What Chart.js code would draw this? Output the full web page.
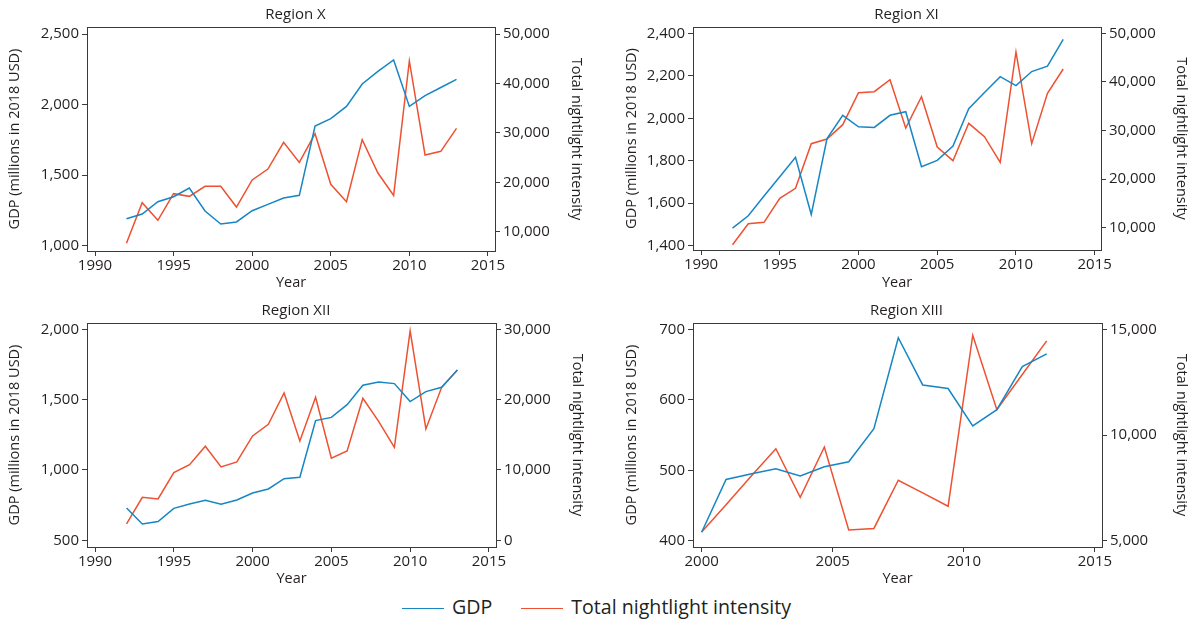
<!DOCTYPE html>
<html>
<head>
<meta charset="utf-8">
<script src="https://cdn.jsdelivr.net/npm/chart.js@4.4.1/dist/chart.umd.min.js"></script>
<style>
  body { margin: 0; background: #fff; width: 1193px; height: 622px; position: relative; overflow: hidden; font-family: "Open Sans", sans-serif; }
  canvas { position: absolute; }
  #legend { position: absolute; left: 0; width: 1193px; top: 593px; text-align: center; font-size: 19.6px; color: #231f20; }
  #legend span.item { display: inline-block; margin: 0 12px; }
  #legend span.sw { display: inline-block; width: 42px; height: 0; border-top: 1.6px solid; vertical-align: middle; margin-right: 8px; }
</style>
</head>
<body>
<canvas id="c1"></canvas>
<canvas id="c2"></canvas>
<canvas id="c3"></canvas>
<canvas id="c4"></canvas>
<div id="legend">
  <span class="item"><span class="sw" style="border-color:#1686c4"></span>GDP</span>
  <span class="item"><span class="sw" style="border-color:#ee5131"></span>Total nightlight intensity</span>
</div>
<script>
// data
var years = [1992, 1993, 1994, 1995, 1996, 1997, 1998, 1999, 2000, 2001, 2002,
             2003, 2004, 2005, 2006, 2007, 2008, 2009, 2010, 2011, 2012, 2013];

var gdpX = [1191, 1224, 1312, 1347, 1409, 1246, 1154, 1168, 1248, 1293, 1338,
            1357, 1848, 1900, 1987, 2146, 2235, 2316, 1987, 2063, 2121, 2179];
var lightX = [7640, 15870, 12300, 17690, 17150, 19180, 19180, 14990, 20460, 22680, 28080,
              24030, 29830, 19580, 16070, 28620, 21870, 17350, 44540, 25520, 26260, 30910];

var gdpXI = [1483, 1541, 1634, 1725, 1816, 1547, 1904, 2014, 1960, 1957, 2014,
             2031, 1772, 1802, 1869, 2045, 2121, 2196, 2154, 2220, 2245, 2372];
var lightXI = [6500, 10820, 11100, 16040, 18100, 27290, 28250, 31200, 37790, 37990, 40460,
               30520, 36960, 26600, 23790, 31480, 28730, 23450, 46160, 27290, 37650, 42660];

var gdpXII = [730, 616, 633, 727, 758, 784, 756, 787, 836, 865, 938,
              948, 1351, 1374, 1464, 1602, 1626, 1614, 1486, 1557, 1588, 1711];
var lightXII = [2320, 6110, 5880, 9620, 10760, 13370, 10430, 11140, 14840, 16490, 20950,
                14120, 20330, 11660, 12700, 20190, 16920, 13220, 29760, 15830, 21750, 24220];

var yearsXIII = [2000, 2000.93, 2001.91, 2002.83, 2003.76, 2004.68, 2005.61, 2006.57,
                 2007.5, 2008.43, 2009.4, 2010.34, 2011.26, 2012.23, 2013.16];
var gdpXIII = [412, 487, 495, 502, 492, 505, 512, 559, 688, 621, 616, 563, 586, 647, 665];
var lightXIII = [5410, 6700, 8080, 9350, 7050, 9430, 5510, 5580, 7860, 7260, 6630,
                 14720, 11200, 12860, 14450];

var xTicksA = [1990, 1995, 2000, 2005, 2010, 2015];
var xTicksB = [2000, 2005, 2010, 2015];
var gdpTicksX = [1000, 1500, 2000, 2500];
var lightTicksX = [10000, 20000, 30000, 40000, 50000];
var gdpTicksXI = [1400, 1600, 1800, 2000, 2200, 2400];
var lightTicksXI = [10000, 20000, 30000, 40000, 50000];
var gdpTicksXII = [500, 1000, 1500, 2000];
var lightTicksXII = [0, 10000, 20000, 30000];
var gdpTicksXIII = [400, 500, 600, 700];
var lightTicksXIII = [5000, 10000, 15000];

var BLUE = '#1686c4', RED = '#ee5131', INK = '#231f20', AXIS = '#3a3a3a';
var FONT = '"Open Sans", sans-serif';
var TITLE_SIZE = 14.5;

function pts(xs, ys) {
    return xs.map(function (x, i) { return { x: x, y: ys[i] }; });
}

var boxPlugin = {
    id: 'box',
    afterDraw: function (chart) {
        var a = chart.chartArea, ctx = chart.ctx;
        ctx.save();
        ctx.strokeStyle = AXIS;
        ctx.lineWidth = 1;
        ctx.strokeRect(Math.round(a.left) + 0.5, Math.round(a.top) + 0.5,
            Math.round(a.right - a.left), Math.round(a.bottom - a.top));
        ctx.restore();
    }
};

function makePanel(id, p) {
    var cv = document.getElementById(id);
    cv.style.left = p.cl + 'px';
    cv.style.top = p.ct + 'px';
    cv.style.width = p.cw + 'px';
    cv.style.height = p.ch + 'px';
    cv.width = p.cw; cv.height = p.ch;

    var half = TITLE_SIZE * 1.2 / 2;
    var padL = p.tl - p.cl - half;
    var padR = (p.cl + p.cw) - (p.tr + half);
    var wL = p.pl - p.cl - padL;
    var wR = (p.cl + p.cw - padR) - p.pr;
    var padB = 4.5;
    var hX = p.ch - padB - (p.pb - p.ct);

    function fixTicks(arr) {
        return function (s) { s.ticks = arr.map(function (v) { return { value: v }; }); };
    }
    var tickFont = { family: FONT, size: 15 };
    var gridOpt = { display: true, drawOnChartArea: false, drawTicks: true, tickLength: 5, color: AXIS };
    var titleFont = { family: FONT, size: TITLE_SIZE };

    new Chart(cv, {
        type: 'line',
        data: {
            datasets: [
                { label: 'GDP', data: pts(p.xs, p.gdp), yAxisID: 'y', borderColor: BLUE, borderWidth: 1.5, pointRadius: 0, tension: 0 },
                { label: 'Total nightlight intensity', data: pts(p.xs, p.light), yAxisID: 'y1', borderColor: RED, borderWidth: 1.5, pointRadius: 0, tension: 0 }
            ]
        },
        options: {
            responsive: false,
            animation: false,
            layout: { padding: { left: padL, right: padR, top: 0, bottom: padB } },
            plugins: {
                legend: { display: false },
                tooltip: { enabled: false },
                title: {
                    display: true, text: p.title, color: INK,
                    font: { family: FONT, size: 15, weight: 'normal' },
                    padding: { top: 6, bottom: (p.pt - p.ct) - 6 - 18 }
                }
            },
            scales: {
                x: {
                    type: 'linear', position: 'bottom', min: p.xmin, max: p.xmax,
                    afterBuildTicks: fixTicks(p.xt),
                    afterFit: function (s) { s.height = hX; },
                    grid: gridOpt, border: { display: false },
                    ticks: { color: INK, font: tickFont, padding: 1, maxRotation: 0, callback: function (v) { return String(v); } },
                    title: { display: true, text: 'Year', color: INK, font: titleFont, padding: 0 }
                },
                y: {
                    type: 'linear', position: 'left', min: p.gmin, max: p.gmax,
                    afterBuildTicks: fixTicks(p.gt),
                    afterFit: function (s) { s.width = wL; },
                    grid: gridOpt, border: { display: false },
                    ticks: { color: INK, font: tickFont, padding: 3, callback: function (v) { return v.toLocaleString('en-US'); } },
                    title: { display: true, text: 'GDP (millions in 2018 USD)', color: INK, font: titleFont, padding: 0 }
                },
                y1: {
                    type: 'linear', position: 'right', min: p.lmin, max: p.lmax,
                    afterBuildTicks: fixTicks(p.lt),
                    afterFit: function (s) { s.width = wR; },
                    grid: gridOpt, border: { display: false },
                    ticks: { color: INK, font: tickFont, padding: 3, callback: function (v) { return v.toLocaleString('en-US'); } },
                    title: { display: true, text: 'Total nightlight intensity', color: INK, font: titleFont, padding: 0 }
                }
            }
        },
        plugins: [boxPlugin]
    });
}

makePanel('c1', { cl: 0, ct: 0, cw: 600, ch: 296, pl: 87, pr: 495, pt: 27, pb: 251, tl: 15, tr: 576,
    title: 'Region X', xs: years, gdp: gdpX, light: lightX, xt: xTicksA, gt: gdpTicksX, lt: lightTicksX,
    xmin: 1989.49, xmax: 2015.45, gmin: 962.4, gmax: 2549.6, lmin: 6093, lmax: 51417 });

makePanel('c2', { cl: 600, ct: 0, cw: 593, ch: 296, pl: 693, pr: 1101, pt: 27, pb: 250, tl: 632, tr: 1181,
    title: 'Region XI', xs: years, gdp: gdpXI, light: lightXI, xt: xTicksA, gt: gdpTicksXI, lt: lightTicksXI,
    xmin: 1989.49, xmax: 2015.4, gmin: 1379.8, gmax: 2429.7, lmin: 5412, lmax: 51296 });

makePanel('c3', { cl: 0, ct: 296, cw: 600, ch: 296, pl: 87, pr: 496, pt: 323, pb: 547, tl: 15, tr: 577,
    title: 'Region XII', xs: years, gdp: gdpXII, light: lightXII, xt: xTicksA, gt: gdpTicksXII, lt: lightTicksXII,
    xmin: 1989.49, xmax: 2015.45, gmin: 452.4, gmax: 2044.8, lmin: -953, lmax: 30896 });

makePanel('c4', { cl: 600, ct: 296, cw: 593, ch: 296, pl: 693, pr: 1102, pt: 323, pb: 547, tl: 632, tr: 1181,
    title: 'Region XIII', xs: yearsXIII, gdp: gdpXIII, light: lightXIII, xt: xTicksB, gt: gdpTicksXIII, lt: lightTicksXIII,
    xmin: 1999.67, xmax: 2015.27, gmin: 391.1, gmax: 708.9, lmin: 4702, lmax: 15298 });
</script>
</body>
</html>
